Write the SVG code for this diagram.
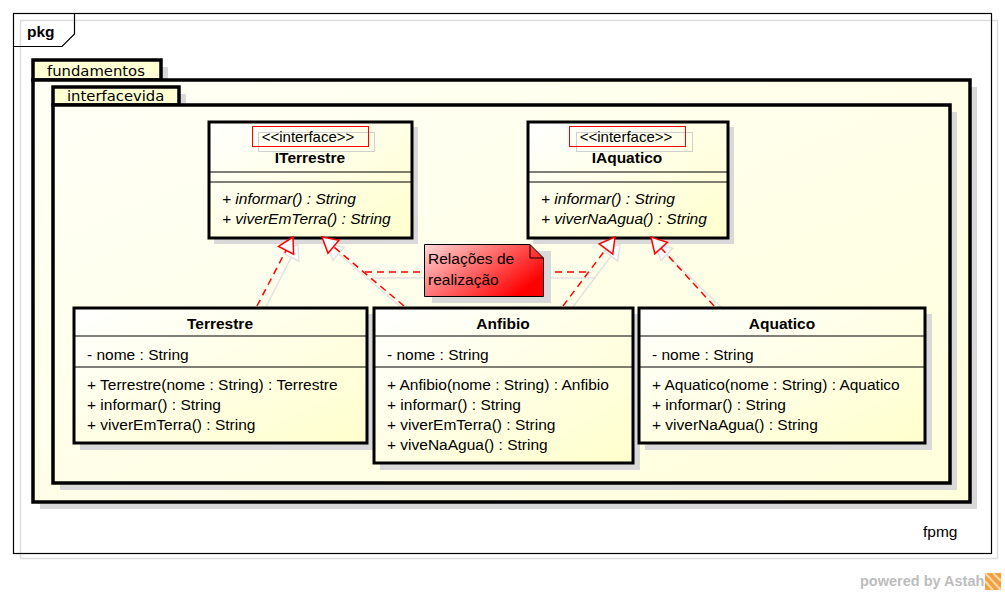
<svg xmlns="http://www.w3.org/2000/svg" width="1005" height="593" viewBox="0 0 1005 593">
<style>
  text { font-family: "Liberation Sans", Arial, sans-serif; fill: #000; }
  .t { font-size: 15.5px; }
  .b { font-size: 15.5px; font-weight: bold; }
  .i { font-size: 15.5px; font-style: italic; }
  .st { font-size: 15px; }
  .tab { font-family: "DejaVu Sans", sans-serif; font-size: 14.8px; }
  .cls { fill: url(#gCls); stroke: #000; stroke-width: 3; }
  .sh { fill: #d9d9d9; stroke: none; }
  .sep { stroke: #000; stroke-width: 1.2; }
  .pkg { stroke: #000; stroke-width: 3.5; }
  .real { stroke: #ff0000; stroke-width: 1.5; stroke-dasharray: 7 5; fill: none; marker-end: url(#tri); }
  .shl { stroke: #e2e2e2; stroke-width: 1.5; fill: none; }
  .shla { stroke: #e2e2e2; stroke-width: 1.5; fill: none; marker-end: url(#triG); }
  .anch { stroke: #ff0000; stroke-width: 1.5; stroke-dasharray: 7 5; fill: none; }
</style>
<defs>
  <linearGradient id="gCls" x1="0" y1="0" x2="1" y2="1">
    <stop offset="0" stop-color="#ffffff"/>
    <stop offset="1" stop-color="#ffffcc"/>
  </linearGradient>
  <linearGradient id="gPkg" x1="0" y1="0" x2="1" y2="1">
    <stop offset="0" stop-color="#fffff6"/>
    <stop offset="1" stop-color="#ffffdc"/>
  </linearGradient>
  <linearGradient id="gNote" x1="0" y1="0" x2="1" y2="0.6">
    <stop offset="0" stop-color="#ffd8d8"/>
    <stop offset="1" stop-color="#ff0000"/>
  </linearGradient>
  <marker id="tri" markerUnits="userSpaceOnUse" markerWidth="20" markerHeight="20" viewBox="-17 -10 19 20" refX="0" refY="0" orient="auto">
    <path d="M0,0 L-15,-8.5 L-15,8.5 Z" fill="#ffffff" stroke="#ff0000" stroke-width="1.5"/>
  </marker>
  <marker id="triG" markerUnits="userSpaceOnUse" markerWidth="20" markerHeight="20" viewBox="-17 -10 19 20" refX="0" refY="0" orient="auto">
    <path d="M0,0 L-15,-8.5 L-15,8.5 Z" fill="#ffffff" stroke="#e2e2e2" stroke-width="1.5"/>
  </marker>
</defs>
<rect x="0" y="0" width="1005" height="593" fill="#ffffff"/>

<!-- outer frame -->
<g id="frame">
  <rect x="20.5" y="20.5" width="977" height="538" fill="none" stroke="#dddddd" stroke-width="1.5"/>
  <rect x="13.5" y="13.5" width="978" height="540" fill="none" stroke="#000" stroke-width="1.2"/>
  <path d="M13.5,46.5 H62 L74.5,34 V13.5" fill="none" stroke="#000" stroke-width="1.2"/>
  <text x="27" y="37" class="b">pkg</text>
  <text x="923" y="537" class="t">fpmg</text>
</g>

<!-- package fundamentos -->
<g id="pkg-fundamentos">
  <rect x="40" y="67" width="128" height="20" class="sh"/>
  <rect x="40" y="87" width="937" height="422" class="sh"/>
  <rect x="33" y="60" width="128" height="20" fill="#ffffd4" class="pkg"/>
  <rect x="33" y="80" width="937" height="422" fill="url(#gPkg)" class="pkg"/>
  <text x="47" y="76" class="tab">fundamentos</text>
</g>

<!-- package interfacevida -->
<g id="pkg-interfacevida">
  <rect x="60" y="94" width="126" height="18" class="sh"/>
  <rect x="60" y="112" width="897" height="378" class="sh"/>
  <rect x="53" y="87" width="126" height="18" fill="#ffffd4" class="pkg"/>
  <rect x="53" y="105" width="897" height="378" fill="url(#gPkg)" class="pkg"/>
  <text x="67" y="101" class="tab">interfacevida</text>
</g>

<!-- connector shadows -->
<g id="connector-shadows">
  <line x1="266" y1="307" x2="298" y2="244" class="shla"/>
  <line x1="401" y1="307" x2="327" y2="244" class="shla"/>
  <line x1="573" y1="307" x2="620" y2="244" class="shla"/>
  <line x1="721" y1="307" x2="656" y2="244" class="shla"/>
  <line x1="372" y1="278" x2="424" y2="278" class="shl"/>
  <line x1="550" y1="278" x2="596" y2="278" class="shl"/>
</g>

<!-- ITerrestre -->
<g id="ITerrestre">
  <rect x="214" y="127" width="204" height="117" class="sh"/>
  <rect x="209" y="122" width="203" height="116" class="cls"/>
  <rect x="258.5" y="132.5" width="116" height="19" fill="none" stroke="#d0d0d0" stroke-width="1"/>
  <rect x="252.5" y="126.5" width="116" height="20" fill="none" stroke="#ff0000" stroke-width="1"/>
  <text x="308" y="142" class="st" text-anchor="middle">&lt;&lt;interface&gt;&gt;</text>
  <text x="310" y="163" class="b" text-anchor="middle">ITerrestre</text>
  <line x1="209" y1="172" x2="412" y2="172" class="sep"/>
  <line x1="209" y1="182" x2="412" y2="182" class="sep"/>
  <text x="222" y="204" class="i">+ informar() : String</text>
  <text x="222" y="224" class="i">+ viverEmTerra() : String</text>
</g>

<!-- IAquatico -->
<g id="IAquatico">
  <rect x="533" y="127" width="201" height="117" class="sh"/>
  <rect x="528" y="122" width="200" height="116" class="cls"/>
  <rect x="576.5" y="132.5" width="116" height="19" fill="none" stroke="#d0d0d0" stroke-width="1"/>
  <rect x="569.5" y="126.5" width="116" height="20" fill="none" stroke="#ff0000" stroke-width="1"/>
  <text x="626" y="142" class="st" text-anchor="middle">&lt;&lt;interface&gt;&gt;</text>
  <text x="627" y="163" class="b" text-anchor="middle">IAquatico</text>
  <line x1="528" y1="172" x2="728" y2="172" class="sep"/>
  <line x1="528" y1="182" x2="728" y2="182" class="sep"/>
  <text x="541" y="204" class="i">+ informar() : String</text>
  <text x="541" y="224" class="i">+ viverNaAgua() : String</text>
</g>

<!-- Terrestre -->
<g id="Terrestre">
  <rect x="80" y="314" width="294" height="136" class="sh"/>
  <rect x="74" y="308" width="293" height="135" class="cls"/>
  <text x="220" y="329" class="b" text-anchor="middle">Terrestre</text>
  <line x1="74" y1="336" x2="367" y2="336" class="sep"/>
  <text x="87" y="360" class="t">- nome : String</text>
  <line x1="74" y1="367" x2="367" y2="367" class="sep"/>
  <text x="87" y="390" class="t">+ Terrestre(nome : String) : Terrestre</text>
  <text x="87" y="410" class="t">+ informar() : String</text>
  <text x="87" y="430" class="t">+ viverEmTerra() : String</text>
</g>

<!-- Anfibio -->
<g id="Anfibio">
  <rect x="380" y="314" width="260" height="156" class="sh"/>
  <rect x="374" y="308" width="259" height="155" class="cls"/>
  <text x="503" y="329" class="b" text-anchor="middle">Anfibio</text>
  <line x1="374" y1="336" x2="633" y2="336" class="sep"/>
  <text x="387" y="360" class="t">- nome : String</text>
  <line x1="374" y1="367" x2="633" y2="367" class="sep"/>
  <text x="387" y="390" class="t">+ Anfibio(nome : String) : Anfibio</text>
  <text x="387" y="410" class="t">+ informar() : String</text>
  <text x="387" y="430" class="t">+ viverEmTerra() : String</text>
  <text x="387" y="450" class="t">+ viveNaAgua() : String</text>
</g>

<!-- Aquatico -->
<g id="Aquatico">
  <rect x="645" y="314" width="287" height="136" class="sh"/>
  <rect x="639" y="308" width="286" height="135" class="cls"/>
  <text x="782" y="329" class="b" text-anchor="middle">Aquatico</text>
  <line x1="639" y1="336" x2="925" y2="336" class="sep"/>
  <text x="652" y="360" class="t">- nome : String</text>
  <line x1="639" y1="367" x2="925" y2="367" class="sep"/>
  <text x="652" y="390" class="t">+ Aquatico(nome : String) : Aquatico</text>
  <text x="652" y="410" class="t">+ informar() : String</text>
  <text x="652" y="430" class="t">+ viverNaAgua() : String</text>
</g>

<!-- connectors -->
<g id="connectors">
  <line x1="257" y1="306" x2="293" y2="237" class="real"/>
  <line x1="404" y1="306" x2="322" y2="237" class="real"/>
  <line x1="563" y1="306" x2="615" y2="237" class="real"/>
  <line x1="714" y1="306" x2="651" y2="237" class="real"/>
  <line x1="365" y1="272" x2="424" y2="272" class="anch"/>
  <line x1="543" y1="272" x2="591" y2="272" class="anch"/>
</g>

<!-- note -->
<g id="note">
  <rect x="432" y="251" width="119" height="52" class="sh"/>
  <path d="M424.5,244.5 H530 L543.5,258 V296.5 H424.5 Z" fill="url(#gNote)" stroke="#000" stroke-width="1"/>
  <path d="M530,244.5 V258 H543.5" fill="none" stroke="#000" stroke-width="1"/>
  <text x="428" y="264" style="font-size:15.5px">Relações de</text>
  <text x="428" y="285" style="font-size:15.5px">realização</text>
</g>

<!-- watermark -->
<g id="watermark">
  <text x="860" y="586" style="font-size:14.5px;font-weight:bold;fill:#bdbdbd">powered by Astah</text>
  <rect x="985" y="573" width="16" height="17" fill="#f5a040"/>
  <path d="M985,573 L1001,590 M993,573 L1001,581 M985,581 L993,590" stroke="#ffd9a8" stroke-width="2"/>
</g>
</svg>
